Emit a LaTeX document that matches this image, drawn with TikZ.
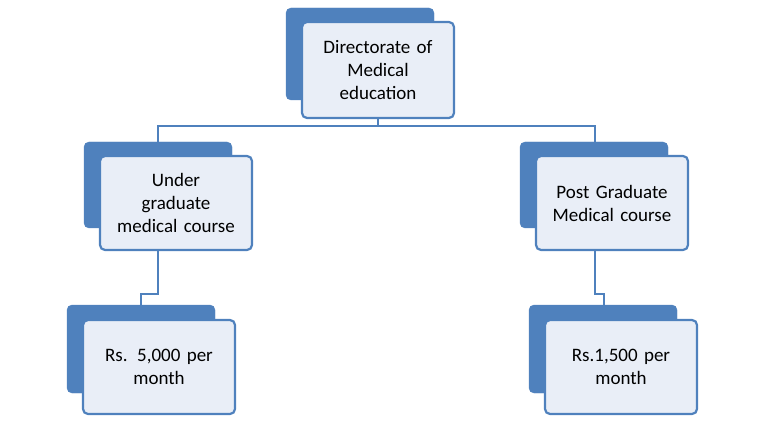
\documentclass[tikz,border=0pt]{standalone}
\usepackage{fontspec}
\setmainfont{Carlito}
\definecolor{bl}{HTML}{4F81BD}
\definecolor{lt}{HTML}{E9EEF7}
\begin{document}
\begin{tikzpicture}[x=1pt,y=-1pt,
 back/.style={fill=bl,draw=bl,rounded corners=5pt},
 front/.style={fill=lt,draw=bl,line width=2.2pt,rounded corners=5pt,align=center,font=\fontsize{19}{23}\selectfont,text width=140pt,inner sep=0pt},
 conn/.style={draw=bl,line width=2.2pt}]
\useasboundingbox (0,0) rectangle (765,430);
% connectors
\coordinate (h1) at (158,126); \coordinate (h2) at (595,126);
\draw[conn] (378,118) -- (378,126);
\draw[conn] (158,142) -- (h1) -- (h2) -- (595,142);
\draw[conn] (158,250) -- (158,294) -- (141,294) -- (141,305);
\draw[conn] (595,250) -- (595,294) -- (604,294) -- (604,305);
% boxes
\fill[back] (286,8) rectangle (434,100);
\node[front,minimum width=152pt,minimum height=96pt] (t) at (378,70) {Directorate of\\Medical\\education};
\fill[back] (84,142) rectangle (232,228);
\node[front,minimum width=152pt,minimum height=94pt] (l) at (176,203) {Under\\graduate\\medical course};
\fill[back] (520,142) rectangle (668,228);
\node[front,minimum width=152pt,minimum height=94pt] (r) at (612,203) {Post Graduate\\Medical course};
\fill[back] (67,305) rectangle (215,393);
\node[front,minimum width=152pt,minimum height=94pt] (bl) at (159,367) {Rs. 5,000 per\\month};
\fill[back] (529,305) rectangle (677,393);
\node[front,minimum width=152pt,minimum height=94pt] (br) at (621,367) {Rs.1,500 per\\month};
\end{tikzpicture}
\end{document}
